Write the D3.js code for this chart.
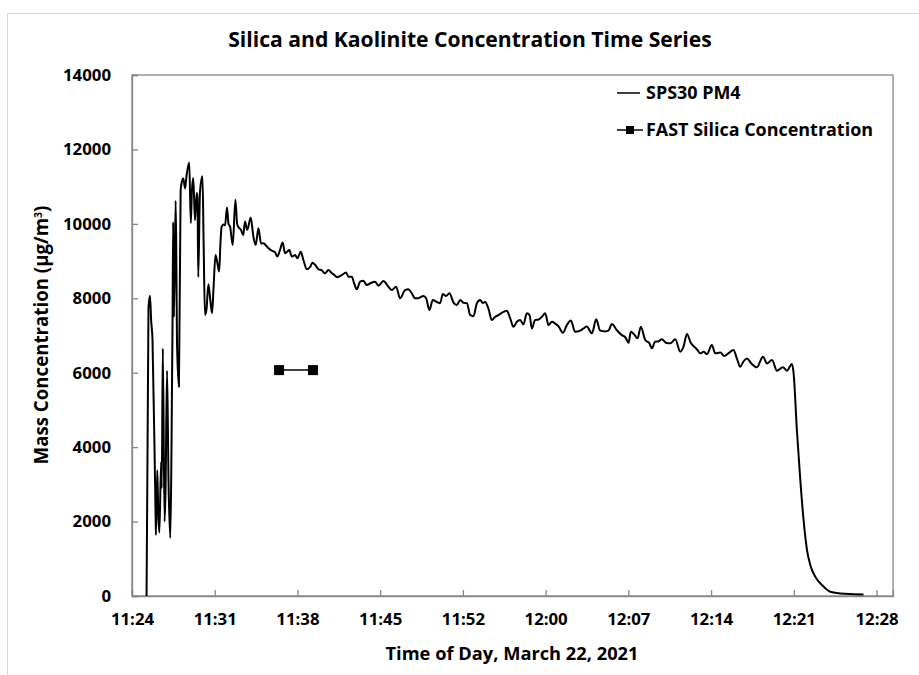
<!DOCTYPE html>
<html>
<head>
<meta charset="utf-8">
<script src="https://cdn.jsdelivr.net/npm/d3@7"></script>
<style>
  html, body { margin: 0; padding: 0; background: #fff; }
  svg { display: block; }
  text { font-family: "Open Sans", Lato, sans-serif; font-weight: bold; fill: #000; }
</style>
</head>
<body>
<svg id="chart" width="919" height="675"></svg>
<script>
// SPS30 PM4 mass concentration readings (time of day, µg/m³)
const sps30Times = [
  "11:25:16","11:25:26","11:25:34","11:25:40","11:25:47","11:26:03","11:26:05","11:26:12","11:26:17","11:26:23",
  "11:26:32","11:26:35","11:26:41","11:26:50","11:26:55","11:27:03","11:27:11","11:27:20","11:27:26","11:27:32",
  "11:27:35","11:27:39","11:27:48","11:27:52","11:27:55","11:28:05","11:28:14","11:28:19","11:28:28","11:28:37",
  "11:28:45","11:28:59","11:29:07","11:29:13","11:29:20","11:29:29","11:29:38","11:29:42","11:29:46","11:29:55",
  "11:30:08","11:30:14","11:30:21","11:30:29","11:30:39","11:30:48","11:30:58","11:31:06","11:31:16","11:31:24",
  "11:31:35","11:31:42","11:31:48","11:31:58","11:32:06","11:32:16","11:32:24","11:32:32","11:32:46","11:33:00",
  "11:33:09","11:33:15","11:33:29","11:33:41","11:33:50","11:34:02","11:34:20","11:34:34","11:34:46","11:35:00",
  "11:35:14","11:35:26","11:35:44","11:35:56","11:36:10","11:36:27","11:36:39","11:36:53","11:37:07","11:37:19",
  "11:37:30","11:37:42","11:37:54","11:38:12","11:38:24","11:38:41","11:38:55","11:39:13","11:39:30","11:39:42",
  "11:39:56","11:40:13","11:40:31","11:40:48","11:41:05","11:41:23","11:41:38","11:41:52","11:42:15","11:42:38",
  "11:42:50","11:43:08","11:43:20","11:43:34","11:43:51","11:44:08","11:44:26","11:44:43","11:45:09","11:45:27",
  "11:45:53","11:46:19","11:46:37","11:46:59","11:47:20","11:47:46","11:48:03","11:48:21","11:48:38","11:48:56",
  "11:49:05","11:49:22","11:49:36","11:49:53","11:50:11","11:50:32","11:50:49","11:51:03","11:51:20","11:51:38",
  "11:51:59","11:52:16","11:52:34","11:52:51","11:53:09","11:53:26","11:53:43","11:54:01","11:54:18","11:54:32",
  "11:54:44","11:55:01","11:55:19","11:55:36","11:55:54","11:56:11","11:56:37","11:56:55","11:57:12","11:57:30",
  "11:57:47","11:58:04","11:58:22","11:58:36","11:58:48","11:59:05","11:59:23","11:59:40","11:59:58","12:00:15",
  "12:00:33","12:00:50","12:01:07","12:01:30","12:01:51","12:02:12","12:02:34","12:03:00","12:03:18","12:03:35",
  "12:04:02","12:04:24","12:04:45","12:05:11","12:05:28","12:05:46","12:06:12","12:06:38","12:06:55","12:07:13",
  "12:07:25","12:07:42","12:08:00","12:08:17","12:08:40","12:09:02","12:09:15","12:09:32","12:09:49","12:10:07",
  "12:10:30","12:10:51","12:11:17","12:11:43","12:12:00","12:12:18","12:12:39","12:12:56","12:13:13","12:13:27",
  "12:13:45","12:14:02","12:14:28","12:14:46","12:15:12","12:15:33","12:15:54","12:16:21","12:16:39","12:16:56",
  "12:17:13","12:17:31","12:17:54","12:18:23","12:18:55","12:19:16","12:19:42","12:20:08","12:20:39","12:21:00",
  "12:21:26","12:21:35","12:21:52","12:22:10","12:22:27","12:22:45","12:23:02","12:23:28","12:24:03","12:24:46",
  "12:25:39","12:26:48","12:27:40"
];
const sps30PM4 = [
  0,7750,8070,7400,6900,2200,1640,3380,2250,1700,
  3600,2900,6650,2000,2800,6050,3000,1560,3800,7600,
  10050,7500,10620,8800,6800,5620,10900,11100,11220,10950,
  11300,11650,10020,10900,11230,10100,10830,10700,8570,10860,
  11280,9500,7550,7700,8380,8000,7600,8300,9160,9000,
  8720,9500,9920,9980,9960,10440,10000,9930,9430,10650,
  10000,9920,9840,9700,10060,9840,10170,9650,9430,9880,
  9470,9480,9390,9330,9280,9240,9120,9300,9500,9210,
  9250,9300,9120,9160,9075,9250,9030,8780,8840,8955,
  8900,8780,8750,8670,8760,8680,8620,8565,8620,8690,
  8580,8580,8400,8240,8445,8470,8355,8400,8445,8340,
  8465,8310,8220,8310,8000,8220,8240,8135,8000,8000,
  8025,8060,8000,7685,7955,7900,7865,8115,8060,8135,
  7885,7820,7955,7880,7870,7550,7520,7865,7955,7870,
  7900,7730,7415,7500,7550,7610,7665,7460,7235,7370,
  7415,7300,7595,7550,7190,7415,7430,7500,7595,7280,
  7370,7320,7250,7075,7280,7400,7100,7130,7190,7240,
  7060,7435,7130,7110,7130,7310,7140,7010,6960,6805,
  7100,7030,6925,7235,6880,6790,6655,6835,6840,6900,
  6800,6790,6900,6565,6700,7040,6790,6700,6610,6520,
  6560,6500,6745,6520,6540,6450,6520,6610,6380,6160,
  6300,6385,6250,6145,6430,6250,6340,6055,6145,6055,
  6235,5985,4460,3115,2040,1235,835,520,295,115,
  70,50,40
];

// FAST silica concentration samples
const fastTimes = ["11:36:48", "11:39:45"];
const fastSilica = [6070, 6070];

// Axis settings
const xDomain = ["11:24:00", "12:30:14"];
const xTickTimes = ["11:24:00","11:31:12","11:38:24","11:45:36","11:52:48","12:00:00","12:07:12","12:14:24","12:21:36","12:28:48"];
const yTicks = [0, 2000, 4000, 6000, 8000, 10000, 12000, 14000];

const parse = d3.timeParse("%H:%M:%S");
const svg = d3.select("#chart");

const plot = { left: 132, right: 893, top: 75, bottom: 596 };
const x = d3.scaleTime().domain(xDomain.map(parse)).range([plot.left, plot.right]);
const y = d3.scaleLinear().domain([0, 14000]).range([plot.bottom, plot.top]);

const axisColor = "#868686";

// Resize a text element's font so its run spans the given width
function fitWidth(sel, width) {
  const node = sel.node();
  const size = parseFloat(sel.attr("font-size"));
  const w = node.getComputedTextLength();
  if (w > 0) sel.attr("font-size", (size * width / w).toFixed(2));
  return sel;
}

// Outer chart frame
svg.append("rect")
  .attr("x", 7.5).attr("y", 13.5).attr("width", 940).attr("height", 700)
  .attr("fill", "none").attr("stroke", "#d9d9d9").attr("stroke-width", 1);

// Plot area frame
svg.append("rect")
  .attr("x", plot.left).attr("y", plot.top)
  .attr("width", plot.right - plot.left).attr("height", plot.bottom - plot.top)
  .attr("fill", "none").attr("stroke", axisColor).attr("stroke-width", 1.3);

// Axes with inside ticks
const yAxis = svg.append("g")
  .attr("transform", `translate(${plot.left},0)`)
  .call(d3.axisLeft(y).tickValues(yTicks).tickSize(-6).tickPadding(21).tickFormat(d3.format("d")));
const xAxis = svg.append("g")
  .attr("transform", `translate(0,${plot.bottom})`)
  .call(d3.axisBottom(x).tickValues(xTickTimes.map(parse)).tickSize(-6).tickPadding(17)
    .tickFormat(d3.timeFormat("%H:%M")));

// Tick label size chosen so "14000" spans 48px
const probe = svg.append("text").attr("font-size", 16).text("14000");
fitWidth(probe, 48);
const tickSize = +probe.attr("font-size");
probe.remove();

[yAxis, xAxis].forEach(g => {
  g.select(".domain").attr("stroke", axisColor).attr("stroke-width", 1.3);
  g.selectAll(".tick line").attr("stroke", axisColor).attr("stroke-width", 1.3);
  g.selectAll(".tick text").attr("font-family", "Open Sans").attr("font-weight", "bold")
    .attr("font-size", tickSize).attr("fill", "#000");
});

// Title
fitWidth(svg.append("text")
  .attr("x", 470).attr("y", 47).attr("text-anchor", "middle")
  .attr("font-size", 19).text("Silica and Kaolinite Concentration Time Series"), 484);

// Axis titles
fitWidth(svg.append("text")
  .attr("x", 512).attr("y", 660).attr("text-anchor", "middle")
  .attr("font-size", 16).text("Time of Day, March 22, 2021"), 253);

const yTitle = svg.append("text")
  .attr("transform", "translate(48,335) rotate(-90)")
  .attr("text-anchor", "middle").attr("font-size", 16);
yTitle.append("tspan").text("Mass Concentration (µg/m");
yTitle.append("tspan").attr("dy", -6).attr("font-size", 10.5).text("3");
yTitle.append("tspan").attr("dy", 6).text(")");
fitWidth(yTitle, 260);

// SPS30 PM4 trace
const sps = sps30Times.map((t, i) => ({ t: parse(t), v: sps30PM4[i] }));
svg.append("path")
  .datum(sps)
  .attr("fill", "none").attr("stroke", "#000").attr("stroke-width", 2)
  .attr("stroke-linejoin", "round")
  .attr("d", d3.line().x(d => x(d.t)).y(d => y(d.v)).curve(d3.curveMonotoneX));

// FAST silica samples
const fast = fastTimes.map((t, i) => ({ t: parse(t), v: fastSilica[i] }));
svg.append("path")
  .datum(fast)
  .attr("fill", "none").attr("stroke", "#000").attr("stroke-width", 1.5)
  .attr("d", d3.line().x(d => x(d.t)).y(d => y(d.v)));
svg.selectAll("rect.fast").data(fast).join("rect")
  .attr("class", "fast")
  .attr("x", d => x(d.t) - 5).attr("y", d => y(d.v) - 5)
  .attr("width", 10).attr("height", 10).attr("fill", "#000");

// Legend: both entries share one font size
const legend = svg.append("g");
const fastLabel = fitWidth(legend.append("text").attr("x", 646).attr("y", 136)
  .attr("font-size", 16).text("FAST Silica Concentration"), 227);
const legendSize = fastLabel.attr("font-size");
legend.append("line").attr("x1", 617).attr("x2", 640).attr("y1", 93).attr("y2", 93)
  .attr("stroke", "#000").attr("stroke-width", 1.5);
legend.append("text").attr("x", 646).attr("y", 99).attr("font-size", legendSize).text("SPS30 PM4");
legend.append("line").attr("x1", 617).attr("x2", 643).attr("y1", 130).attr("y2", 130)
  .attr("stroke", "#000").attr("stroke-width", 1.5);
legend.append("rect").attr("x", 626).attr("y", 126).attr("width", 8).attr("height", 8).attr("fill", "#000");
</script>
</body>
</html>
